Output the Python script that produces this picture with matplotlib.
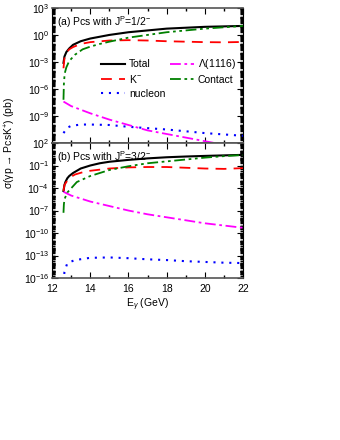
import numpy as np
import matplotlib
matplotlib.use('Agg')
import matplotlib.pyplot as plt
from matplotlib.ticker import LogLocator, NullFormatter, FixedLocator, MultipleLocator

plt.rcParams['font.family'] = ['Liberation Sans', 'DejaVu Sans']
plt.rcParams['font.size'] = 7.5
plt.rcParams['mathtext.fontset'] = 'custom'
plt.rcParams['mathtext.rm'] = 'Liberation Sans'
plt.rcParams['mathtext.it'] = 'Liberation Sans:italic'

# (a) J^P = 1/2^-  : log10(sigma / pb)
e_tot_a = [12.6, 12.65, 12.75, 12.9, 13.1, 13.5, 14.0, 14.5, 15, 16, 17, 18, 19, 20, 21, 22]
tot_a = [-3.1, -2.4, -1.9, -1.5, -1.1, -0.7, -0.4, -0.2, 0.0, 0.3, 0.5, 0.7, 0.8, 0.9, 0.95, 1.0]
e_k_a = [12.6, 12.65, 12.75, 12.9, 13.1, 13.5, 14, 15, 16, 17, 18, 19, 20, 21, 22]
k_a = [-3.7, -2.6, -2.0, -1.6, -1.35, -1.0, -0.8, -0.62, -0.58, -0.62, -0.7, -0.75, -0.8, -0.82, -0.78]
e_ct_a = [12.6, 12.62, 12.66, 12.75, 12.9, 13.2, 13.6, 14, 14.5, 15, 16, 17, 18, 19, 20, 21, 22]
ct_a = [-7.2, -5.5, -4.3, -3.6, -2.9, -2.2, -1.6, -1.3, -1.0, -0.75, -0.3, 0.0, 0.3, 0.5, 0.7, 0.85, 1.0]
e_lam_a = [12.6, 13, 14, 15, 16, 17, 18, 19, 20, 21, 22]
lam_a = [-7.4, -7.9, -8.7, -9.4, -10.0, -10.6, -11.0, -11.4, -11.8, -12.2, -12.5]
e_nuc_a = [12.6, 12.8, 13.0, 13.5, 14, 15, 16, 17, 18, 19, 20, 21, 22]
nuc_a = [-10.9, -10.3, -10.1, -9.95, -9.95, -10.0, -10.2, -10.35, -10.5, -10.7, -10.9, -11.05, -11.2]

# (b) J^P = 3/2^-
e_tot_b = [12.6, 12.65, 12.7, 12.8, 12.9, 13.1, 13.5, 14, 14.5, 15, 16, 17, 18, 19, 20, 21, 22]
tot_b = [-4.4, -3.6, -3.2, -2.7, -2.4, -2.0, -1.4, -1.0, -0.7, -0.5, -0.25, -0.05, 0.1, 0.2, 0.28, 0.35, 0.42]
e_k_b = [12.6, 12.65, 12.8, 13.0, 13.2, 13.6, 14, 15, 16, 17, 18, 19, 20, 21, 22]
k_b = [-4.4, -3.6, -3.0, -2.5, -2.2, -1.9, -1.7, -1.4, -1.25, -1.2, -1.2, -1.3, -1.4, -1.45, -1.35]
e_ct_b = [12.6, 12.62, 12.65, 12.8, 13.3, 14, 14.5, 15, 16, 17, 18, 19, 20, 21, 22]
ct_b = [-7.3, -6.2, -5.5, -4.6, -3.2, -2.4, -2.0, -1.6, -1.1, -0.7, -0.45, -0.2, 0.05, 0.25, 0.4]
e_lam_b = [12.6, 13, 14, 15, 16, 17, 18, 19, 20, 21, 22]
lam_b = [-4.5, -5.0, -5.8, -6.4, -7.0, -7.5, -7.9, -8.3, -8.7, -9.0, -9.3]
e_nuc_b = [12.6, 12.65, 12.8, 13.2, 14, 15, 16, 17, 18, 19, 20, 21, 22]
nuc_b = [-16.5, -15.2, -14.0, -13.6, -13.3, -13.25, -13.35, -13.5, -13.6, -13.75, -13.85, -13.95, -14.0]

labels = ['Total', 'K$^{-}$', 'nucleon', r'$\Lambda$(1116)', 'Contact']
colors = ['black', '#ff0000', '#0000ff', '#ff00ff', '#008000']
styles = ['-', (0, (6, 4)), (0, (1, 2.8)), (0, (6, 2, 1.5, 2)), (0, (6, 2, 1.5, 2, 1.5, 2))]
widths = [1.5, 1.3, 1.5, 1.3, 1.3]

fig = plt.figure(figsize=(3.4, 4.4), dpi=100)
ax_a = fig.add_axes([0.153, 0.675, 0.562, 0.307])
ax_b = fig.add_axes([0.153, 0.368, 0.562, 0.307])

panels = [
    (ax_a, [(e_tot_a, tot_a), (e_k_a, k_a), (e_nuc_a, nuc_a), (e_lam_a, lam_a), (e_ct_a, ct_a)],
     (1e-12, 1e3), 3, -9, r'(a) Pcs with J$^\mathrm{P}$=1/2$^{-}$'),
    (ax_b, [(e_tot_b, tot_b), (e_k_b, k_b), (e_nuc_b, nuc_b), (e_lam_b, lam_b), (e_ct_b, ct_b)],
     (1e-16, 1e2), 2, -16, r'(b) Pcs with J$^\mathrm{P}$=3/2$^{-}$'),
]

for ax, series, ylim, top_exp, low_exp, title in panels:
    for (e, v), lab, c, ls, lw in zip(series, labels, colors, styles, widths):
        ax.plot(e, 10.0 ** np.array(v), color=c, linestyle=ls, lw=lw, label=lab)
    ax.set_yscale('log')
    ax.set_xlim(12, 22)
    ax.set_ylim(*ylim)
    ax.yaxis.set_major_locator(FixedLocator(10.0 ** np.arange(top_exp, low_exp - 1, -3)))
    ax.yaxis.set_minor_locator(LogLocator(base=10, subs=np.arange(1, 10), numticks=60))
    ax.yaxis.set_minor_formatter(NullFormatter())
    ax.xaxis.set_major_locator(MultipleLocator(2))
    ax.xaxis.set_minor_locator(MultipleLocator(1))
    ax.tick_params(which='both', direction='in', top=True, right=True, labelsize=7.5)
    ax.tick_params(axis='y', pad=2)
    ax.tick_params(axis='x', pad=4)
    ax.tick_params(which='major', length=4, width=0.8)
    ax.tick_params(which='minor', length=2.5, width=1.0)
    for s in ['left', 'right']:
        ax.spines[s].set_linewidth(0.8)
    for s in ['top', 'bottom']:
        ax.spines[s].set_color('#555555')
        ax.spines[s].set_linewidth(1.2)
    ax.text(0.025, 0.955, title, transform=ax.transAxes, ha='left', va='top', fontsize=7.5)

ax_a.tick_params(axis='x', labelbottom=False)

ax_b.set_xlabel(r'E$_\gamma$ (GeV)', fontsize=7.5, labelpad=2)
fig.text(0.03, 0.675, 'σ(γp → PcsK$^{+}$) (pb)', rotation=90,
         ha='center', va='center', fontsize=7.5)

ax_a.legend(loc='upper left', bbox_to_anchor=(0.235, 0.665), ncol=2, frameon=False,
            fontsize=7.5, handlelength=2.3, handletextpad=0.4, columnspacing=0.4,
            labelspacing=0.35, borderaxespad=0)

fig.savefig('out.png', dpi=100)
